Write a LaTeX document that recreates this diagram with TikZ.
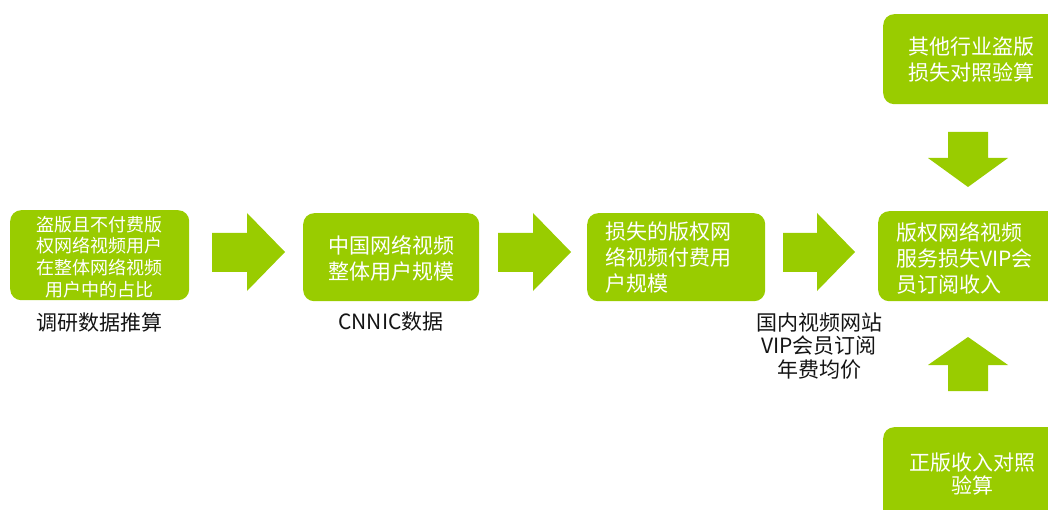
\documentclass[tikz,border=0pt]{standalone}
\usepackage{fontspec}
\setmainfont{Noto Sans CJK SC}
\definecolor{lime}{RGB}{153,204,0}
\definecolor{ink}{RGB}{20,20,20}
\tikzset{
  box/.style={fill=lime, draw=none, rounded corners=11pt, anchor=north west, inner sep=0pt},
  boxtext/.style={text=white, inner sep=0pt, font=\fontsize{21}{26}\selectfont},
  smalltext/.style={text=white, inner sep=0pt, font=\fontsize{18}{21.7}\selectfont, align=center},
  label/.style={text=ink, inner sep=0pt, font=\fontsize{21}{23.5}\selectfont, align=center},
  blockarrow/.style={fill=lime, draw=none}
}
\begin{document}
\begin{tikzpicture}[x=1pt,y=-1pt]
\useasboundingbox (0,0) rectangle (1048,510);
\clip (0,0) rectangle (1048,510);
% boxes
\node[box, minimum width=179pt, minimum height=90pt] (b1) at (10,210) {};
\node[box, minimum width=176pt, minimum height=88pt] (b2) at (303,213) {};
\node[box, minimum width=178pt, minimum height=88pt] (b3) at (587,213) {};
\node[box, minimum width=200pt, minimum height=90pt] (b4) at (878,211) {};
\node[box, minimum width=200pt, minimum height=90pt] (b5) at (883,14) {};
\node[box, minimum width=200pt, minimum height=110pt] (b6) at (883,427) {};
% box texts
\node[smalltext] (t1) at (99,257) {盗版且不付费版\\权网络视频用户\\在整体网络视频\\用户中的占比};
\node[boxtext, align=center] (t2) at (391,258) {中国网络视频\\整体用户规模};
\node[boxtext, align=left, anchor=west] (t3) at (605,258) {损失的版权网\\络视频付费用\\户规模};
\node[boxtext, align=left, anchor=west] (t4) at (896,258) {版权网络视频\\服务损失VIP会\\员订阅收入};
\node[boxtext, align=center] (t5) at (971,60) {其他行业盗版\\损失对照验算};
\node[boxtext, align=center, font=\fontsize{21}{23.5}\selectfont] (t6) at (972,474) {正版收入对照\\验算};
% labels
\node[label] (l1) at (99,323) {调研数据推算};
\node[label] (l2) at (391,322) {CNNIC数据};
\node[label] (l3) at (819,346) {国内视频网站\\VIP会员订阅\\年费均价};
% block arrows
\fill[blockarrow] (212,233) -- (247,233) -- (247,213) -- (285,252) -- (247,291) -- (247,272) -- (212,272) -- cycle;
\fill[blockarrow] (498,233) -- (533,233) -- (533,213) -- (571,252) -- (533,291) -- (533,272) -- (498,272) -- cycle;
\fill[blockarrow] (783,233) -- (817,233) -- (817,213) -- (855,252) -- (817,291) -- (817,272) -- (783,272) -- cycle;
\fill[blockarrow] (948,132) -- (988,132) -- (988,158) -- (1008,158) -- (968,187) -- (928,158) -- (948,158) -- cycle;
\fill[blockarrow] (948,391) -- (988,391) -- (988,365) -- (1008,365) -- (968,337) -- (928,365) -- (948,365) -- cycle;
\end{tikzpicture}
\end{document}
